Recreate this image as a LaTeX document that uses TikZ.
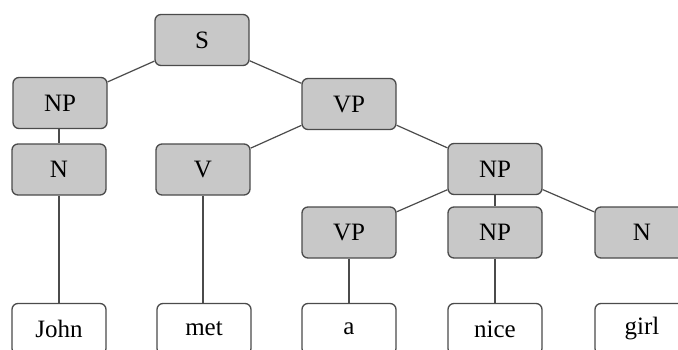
\documentclass[tikz,border=0pt]{standalone}
\usepackage{fontspec}
\setmainfont{Liberation Serif}
\definecolor{boxfill}{RGB}{200,200,200}
\definecolor{edge}{RGB}{75,75,75}
\begin{document}
\begin{tikzpicture}[x=1pt,y=-1pt,
  cat/.style={draw=edge,line width=1.3pt,fill=boxfill,rounded corners=6pt,
    minimum width=94pt,minimum height=51pt,inner sep=0pt,
    font=\fontsize{25}{28}\selectfont},
  leaf/.style={cat,fill=white},
  link/.style={draw=edge,line width=1.2pt}]
\useasboundingbox (0,0) rectangle (678,349);
\fill[white] (0,0) rectangle (678,349);
\node[cat] (S) at (202,40) {S};
\node[cat] (NPa) at (60,103) {NP};
\node[cat] (Na) at (59,169.5) {N};
\node[cat] (VPa) at (349,104) {VP};
\node[cat] (V) at (203,169.5) {V};
\node[cat] (NPb) at (495,169) {NP};
\node[cat] (VPb) at (349,232.5) {VP};
\node[cat] (NPc) at (495,232.5) {NP};
\node[cat] (Nb) at (642,232.5) {N};
\node[leaf] (john) at (59,329) {John};
\node[leaf] (met) at (204,329) {met};
\node[leaf] (a) at (349,329) {a};
\node[leaf] (nice) at (495,329) {nice};
\node[leaf] (girl) at (642,329) {girl};
\draw[link] (S) -- (NPa);
\draw[link] (S) -- (VPa);
\draw[link] (NPa.south -| Na.north) -- (Na.north);
\draw[link] (VPa) -- (V);
\draw[link] (VPa) -- (NPb);
\draw[link] (NPb) -- (VPb);
\draw[link] (NPb) -- (NPc);
\draw[link] (NPb) -- (Nb);
\draw[link] (Na) -- (john);
\draw[link] (V) -- (V |- met.north);
\draw[link] (VPb) -- (a);
\draw[link] (NPc) -- (nice);
\end{tikzpicture}
\end{document}
